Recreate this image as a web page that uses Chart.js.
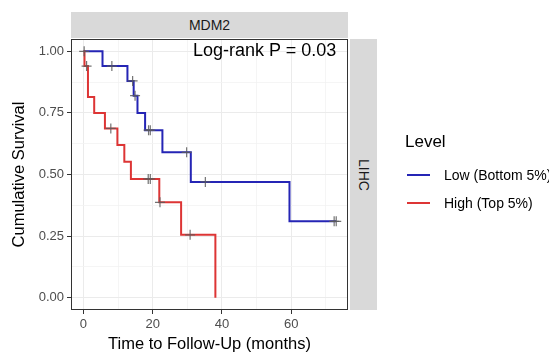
<!DOCTYPE html>
<html>
<head>
<meta charset="utf-8">
<script src="https://cdn.jsdelivr.net/npm/chart.js@4/dist/chart.umd.min.js"></script>
<style>
  body { margin: 0; background: #fff; }
  #wrap {
    position: relative;
    width: 549px;
    height: 356px;
    overflow: hidden;
    font-family: "Liberation Sans", Arial, sans-serif;
  }
  #wrap canvas { position: absolute; left: 0; top: 0; }
  .strip {
    position: absolute;
    background: #d9d9d9;
    color: #1a1a1a;
    font-size: 14px;
    display: flex;
    align-items: center;
    justify-content: center;
  }
  #stripTop { left: 71px; top: 12px; width: 277px; height: 26px; }
  #stripRight { left: 350px; top: 39px; width: 27px; height: 271px; }
  #stripRight span { writing-mode: vertical-rl; }
  #pval {
    position: absolute;
    left: 193px;
    top: 40px;
    font-size: 18px;
    color: #000;
    white-space: nowrap;
  }
  #legend { position: absolute; left: 405px; top: 132px; color: #000; }
  #legend .title { font-size: 17px; margin-bottom: 9px; }
  #legend .item { display: flex; align-items: center; height: 28px; font-size: 14px; white-space: nowrap; }
  #legend .key { width: 23px; height: 2px; margin: 0 14px 0 2px; }
</style>
</head>
<body>
<div id="wrap">
  <canvas id="km" width="549" height="356"></canvas>
  <div class="strip" id="stripTop">MDM2</div>
  <div class="strip" id="stripRight"><span>LIHC</span></div>
  <div id="pval">Log-rank P = 0.03</div>
  <div id="legend">
    <div class="title">Level</div>
    <div class="item"><div class="key" style="background:#2525b5"></div>Low (Bottom 5%)</div>
    <div class="item"><div class="key" style="background:#dd3535"></div>High (Top 5%)</div>
  </div>
</div>
<script>
// survival step curves (months, cumulative survival)
const lowTimes = [0, 5.5, 12.7, 14.5, 15.6, 17.8, 22.8, 31, 59.5, 73];
const lowSurv = [1, 0.94, 0.88, 0.82, 0.75, 0.68, 0.59, 0.47, 0.31, 0.31];
const lowCensor = [0.2, 8.2, 14.2, 14.9, 18.8, 19.3, 29.8, 35.2, 72.4, 73];

const highTimes = [0, 0.3, 1.3, 3.1, 6.2, 9.8, 11.8, 13.7, 21.9, 28.2, 38.1];
const highSurv = [1, 0.94, 0.815, 0.75, 0.687, 0.62, 0.552, 0.482, 0.387, 0.255, 0];
const highCensor = [0.9, 7.9, 18.7, 19.3, 22.1, 30.8];

const xTicks = [0, 10, 20, 30, 40, 50, 60, 70];
const yTicks = [0, 0.125, 0.25, 0.375, 0.5, 0.625, 0.75, 0.875, 1];

const blue = "#2525b5";
const red = "#dd3535";

function survAt(times, surv, t) {
  let s = surv[0];
  for (let i = 0; i < times.length; i++) {
    if (times[i] <= t) s = surv[i];
  }
  return s;
}

const curve = (times, surv) => times.map((t, i) => ({ x: t, y: surv[i] }));
const marks = (times, surv, cens) =>
  cens.map((t) => ({ x: t, y: survAt(times, surv, t) }));

const isMajorX = (v) => v % 20 === 0;
const isMajorY = (v) => Math.abs(v * 4 - Math.round(v * 4)) < 1e-9;

const panelBorder = {
  id: "panelBorder",
  afterDatasetsDraw(chart) {
    const a = chart.chartArea;
    const ctx = chart.ctx;
    ctx.save();
    ctx.strokeStyle = "#333333";
    ctx.lineWidth = 1;
    ctx.strokeRect(a.left + 0.5, a.top + 0.5, a.right - a.left - 1, a.bottom - a.top - 1);
    ctx.restore();
  },
};

new Chart(document.getElementById("km"), {
  type: "line",
  data: {
    datasets: [
      {
        label: "censorLow",
        data: marks(lowTimes, lowSurv, lowCensor),
        showLine: false,
        pointStyle: "cross",
        pointRadius: 5,
        pointBorderWidth: 1.2,
        pointBorderColor: "rgba(90,90,90,0.85)",
        order: 0,
      },
      {
        label: "censorHigh",
        data: marks(highTimes, highSurv, highCensor),
        showLine: false,
        pointStyle: "cross",
        pointRadius: 5,
        pointBorderWidth: 1.2,
        pointBorderColor: "rgba(90,90,90,0.85)",
        order: 0,
      },
      {
        label: "Low (Bottom 5%)",
        data: curve(lowTimes, lowSurv),
        stepped: "before",
        borderColor: blue,
        borderWidth: 2,
        pointRadius: 0,
        order: 2,
      },
      {
        label: "High (Top 5%)",
        data: curve(highTimes, highSurv),
        stepped: "before",
        borderColor: red,
        borderWidth: 2,
        pointRadius: 0,
        order: 1,
      },
    ],
  },
  options: {
    responsive: false,
    animation: false,
    devicePixelRatio: 1,
    layout: { padding: { top: 39, right: 201, left: 0, bottom: 0 } },
    plugins: { legend: { display: false }, tooltip: { enabled: false } },
    scales: {
      x: {
        type: "linear",
        min: -3.6,
        max: 76.4,
        afterFit: (s) => { s.height = 46; },
        afterBuildTicks: (s) => { s.ticks = xTicks.map((v) => ({ value: v })); },
        border: { display: false },
        grid: {
          color: (c) => (isMajorX(c.tick.value) ? "#ebebeb" : "#f3f3f3"),
          lineWidth: (c) => (isMajorX(c.tick.value) ? 1 : 0.8),
          tickColor: (c) => (isMajorX(c.tick.value) ? "#333333" : "rgba(0,0,0,0)"),
          tickLength: 4,
        },
        ticks: {
          padding: 3,
          color: "#4d4d4d",
          font: { family: "Liberation Sans", size: 13 },
          callback: (v) => (isMajorX(v) ? String(v) : ""),
          maxRotation: 0,
        },
        title: {
          display: true,
          text: "Time to Follow-Up (months)",
          color: "#000",
          font: { family: "Liberation Sans", size: 16.5 },
          padding: { top: 0, bottom: 2 },
        },
      },
      y: {
        type: "linear",
        min: -0.05,
        max: 1.05,
        afterFit: (s) => { s.width = 71; },
        afterBuildTicks: (s) => { s.ticks = yTicks.map((v) => ({ value: v })); },
        border: { display: false },
        grid: {
          color: (c) => (isMajorY(c.tick.value) ? "#ebebeb" : "#f3f3f3"),
          lineWidth: (c) => (isMajorY(c.tick.value) ? 1 : 0.8),
          tickColor: (c) => (isMajorY(c.tick.value) ? "#333333" : "rgba(0,0,0,0)"),
          tickLength: 4,
        },
        ticks: {
          padding: 3,
          color: "#4d4d4d",
          font: { family: "Liberation Sans", size: 13 },
          callback: (v) => (isMajorY(v) ? v.toFixed(2) : ""),
        },
        title: {
          display: true,
          text: "Cumulative Survival",
          color: "#000",
          font: { family: "Liberation Sans", size: 16.5 },
          padding: { top: 10, bottom: 0 },
        },
      },
    },
  },
  plugins: [panelBorder],
});
</script>
</body>
</html>
